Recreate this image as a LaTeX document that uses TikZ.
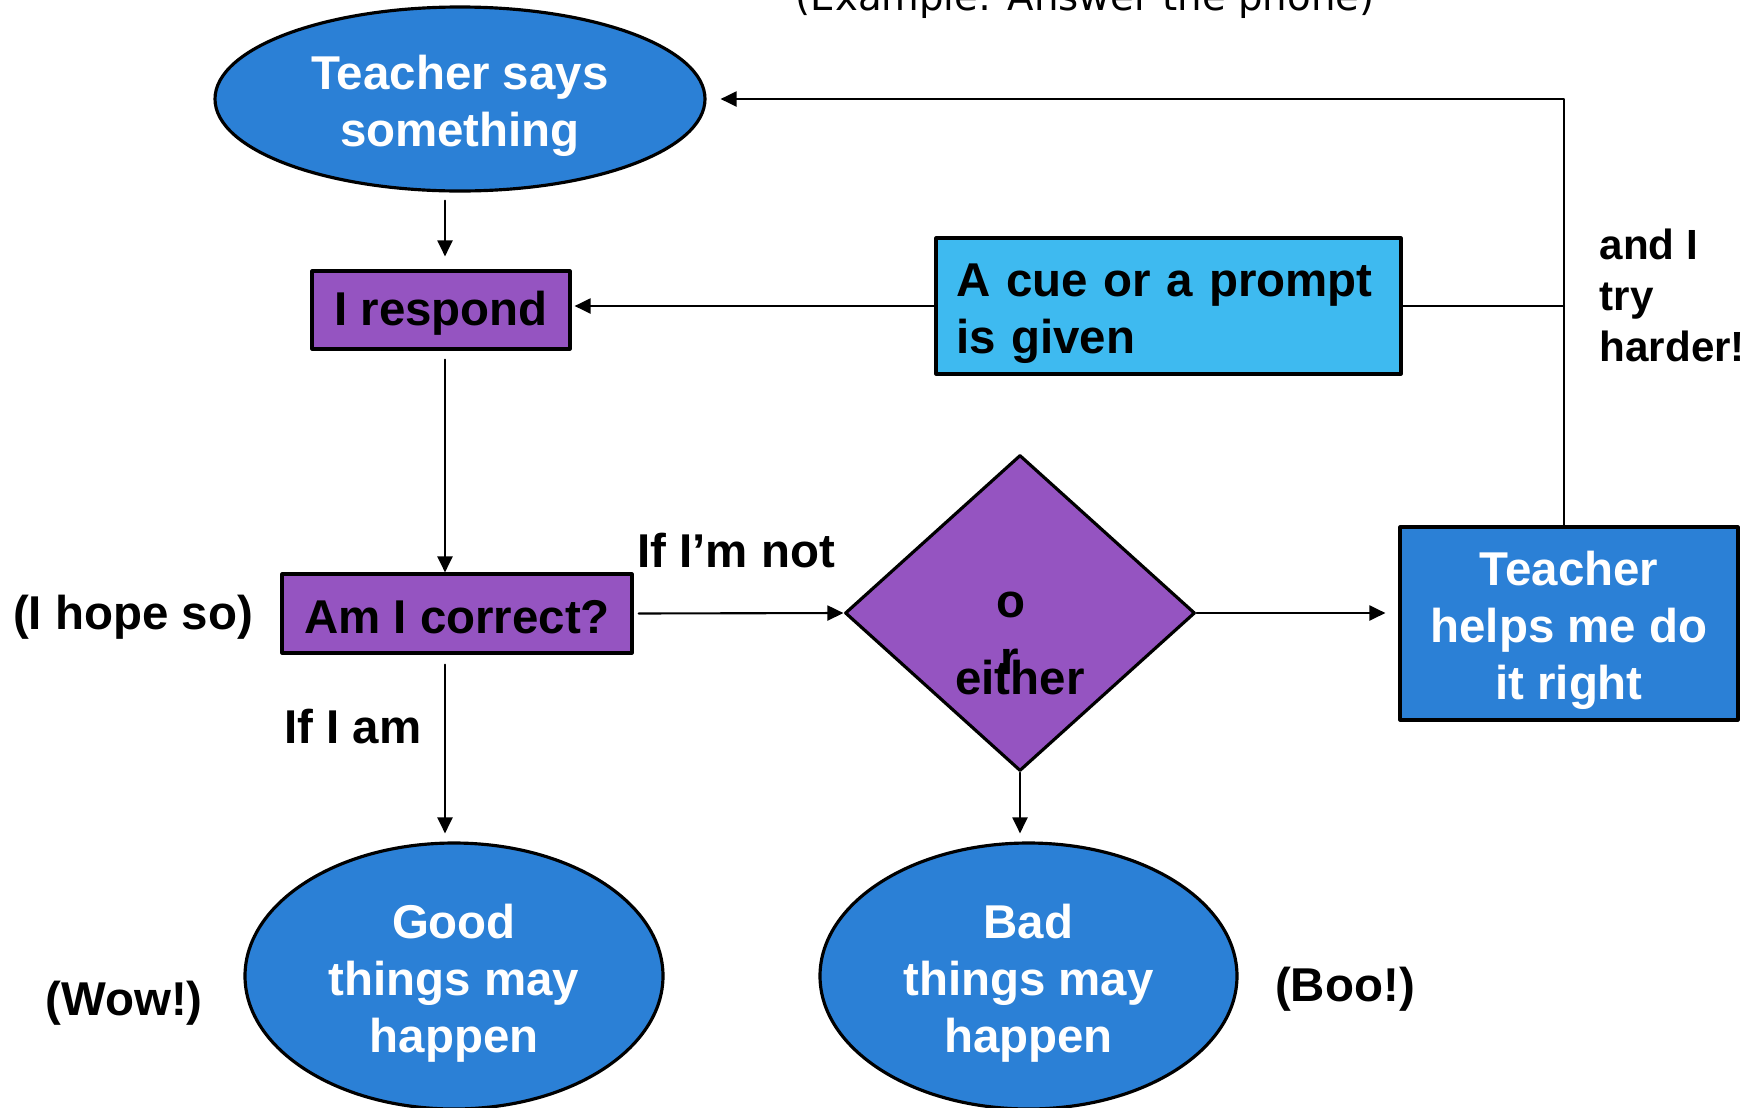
\documentclass[tikz,border=0pt]{standalone}
\usepackage{fontspec}
\setmainfont{Liberation Sans}
\newfontfamily\notefont{DejaVu Sans}
\usetikzlibrary{arrows.meta, shapes.geometric, calc}
\definecolor{ovalblue}{RGB}{43,128,214}
\definecolor{boxpurple}{RGB}{149,84,193}
\definecolor{cueblue}{RGB}{62,186,240}
\newcommand{\textlift}[1][4.8mm]{\rule{0pt}{#1}}

\begin{document}
\begin{tikzpicture}[x=0.1mm, y=-0.1mm, line cap=round, line join=round,
	>={Triangle[length=1.6mm,width=1.5mm]},
	every node/.style={font=\fontsize{13.5}{16.2}\selectfont\bfseries},
	oval/.style={ellipse, draw=black, line width=0.9pt, fill=ovalblue, text=white, align=center, inner sep=0pt},
	actbox/.style={rectangle, draw=black, line width=0.9pt, align=center, inner sep=0pt},
	link/.style={line width=0.6pt}]
	% page frame
	\useasboundingbox (0,0) rectangle (1762,1107);
	\clip (0,0) rectangle (1762,1107);
	
	% note at the top
	\node[anchor=base, inner sep=0pt, font=\notefont\fontsize{11}{13}\selectfont] (example) at (1085,10) {(Example: Answer the phone)};
	
	% the steps
	\node[oval, minimum width=49mm, minimum height=18.4mm] (say) at (460,99) {\textlift Teacher says\\something};
	\node[actbox, fill=boxpurple, minimum width=25.8mm, minimum height=7.8mm] (respond) at (441,310) {\textlift[4.1mm]I respond};
	\node[actbox, fill=cueblue, minimum width=46.5mm, minimum height=13.6mm, text width=42.5mm, align=left] (cue) at (1168.5,306) {\textlift A cue or a prompt\\is given};
	\node[actbox, fill=boxpurple, minimum width=35mm, minimum height=7.9mm] (correct) at (457,613.5) {\textlift[4.0mm]Am I correct?};
	\node[diamond, draw=black, line width=0.9pt, fill=boxpurple, minimum width=35mm, minimum height=31.6mm, inner sep=0pt] (choice) at (1020,613) {};
	\node[actbox, fill=ovalblue, text=white, minimum width=33.8mm, minimum height=19.3mm] (help) at (1569,623.5) {\textlift Teacher\\helps me do\\it right};
	\node[oval, minimum width=41.8mm, minimum height=26.6mm] (good) at (454,976) {\textlift Good\\things may\\happen};
	\node[oval, minimum width=41.7mm, minimum height=26.6mm] (bad) at (1028.5,976) {\textlift Bad\\things may\\happen};
	
	% text in the diamond
	\node[anchor=base, inner sep=0pt] (orO) at (1011,617) {o};
	\node[anchor=base, inner sep=0pt] (orR) at (1010,674) {r};
	\node[anchor=base, inner sep=0pt] (either) at (1020,694) {either};
	
	% side labels
	\node (hope) at (133,617) {(I hope so)};
	\node (notlbl) at (736,551) {If I’m not};
	\node (amlbl) at (353,727) {If I am};
	\node (wow) at (124,1003) {(Wow!)};
	\node (boo) at (1345,989) {(Boo!)};
	\node[anchor=west, align=left, inner sep=0pt, font=\fontsize{12}{14.5}\selectfont\bfseries] (harder) at (1599,295) {and I\\try\\harder!};
	
	% connectors
	\coordinate (spine) at ($(respond.south)+(4,0)$);
	\coordinate (back) at ($(help.north)+(-5,0)$);
	\draw[link,->,shorten <=0.8mm,shorten >=1.3mm] (spine |- say.south) -- (spine |- respond.north);
	\draw[link,->,shorten >=0.3mm] (cue.west) -- (cue.west -| respond.east);
	\draw[link] (cue.east) -- (cue.east -| back);
	\draw[link,->,shorten >=1.4mm] (back) |- (say.east);
	\draw[link,->,shorten <=0.9mm] (spine) -- (spine |- correct.north);
	\draw[link,->,shorten <=0.5mm] (correct.east) -- (choice.west);
	\draw[link,->,shorten <=1mm,shorten >=0.8mm] (spine |- correct.south) -- (spine |- good.north);
	\draw[link,->,shorten >=0.8mm] (choice.south) -- (bad.north -| choice.south);
	\draw[link,->,shorten >=1.3mm] (choice.east) -- (choice.east -| help.west);

\end{tikzpicture}
\end{document}
